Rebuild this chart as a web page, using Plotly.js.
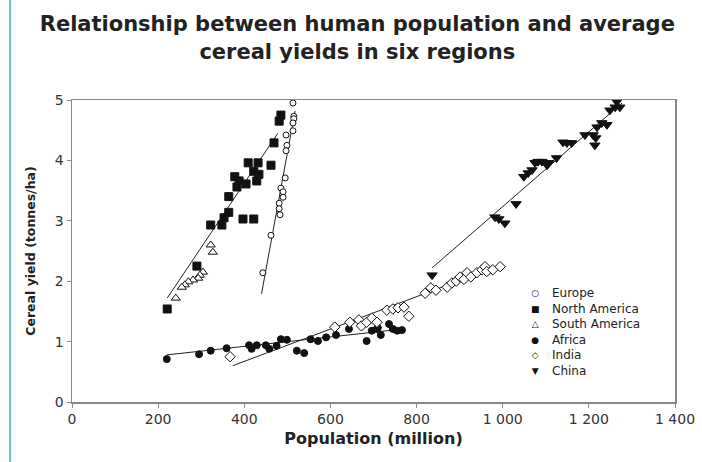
<!DOCTYPE html>
<html>
<head>
<meta charset="utf-8">
<script src="https://cdn.plot.ly/plotly-3.0.1.min.js"></script>
<style>html,body{margin:0;padding:0;background:#fff;}#chart{width:702px;height:462px;}</style>
</head>
<body>
<div id="chart"></div>
<script>
// Data (population in million, cereal yield in tonnes/ha)
const europePop = [513, 515, 515, 513, 513, 497, 499, 497, 495, 485, 490, 490, 481, 481, 483, 462, 443];
const europeYield = [4.95, 4.73, 4.69, 4.62, 4.49, 4.42, 4.25, 4.16, 3.71, 3.54, 3.48, 3.39, 3.29, 3.20, 3.10, 2.76, 2.14];
const europeFitX = [440, 518];
const europeFitY = [1.79, 4.82];

const naPop = [485, 481, 469, 409, 432, 462, 422, 434, 378, 388, 404, 429, 383, 364, 364, 353, 322, 348, 397, 422, 290, 221];
const naYield = [4.75, 4.65, 4.29, 3.96, 3.96, 3.92, 3.82, 3.77, 3.73, 3.66, 3.61, 3.66, 3.56, 3.40, 3.14, 3.05, 2.93, 2.93, 3.03, 3.03, 2.25, 1.54];
const naFitX = [221, 478];
const naFitY = [1.72, 4.45];

const saPop = [322, 327, 304, 297, 293, 281, 270, 262, 255, 241];
const saYield = [2.60, 2.48, 2.15, 2.10, 2.05, 2.02, 1.99, 1.94, 1.90, 1.72];

const africaPop = [220, 295, 322, 359, 411, 417, 429, 450, 458, 475, 485, 499, 522, 539, 554, 571, 590, 613, 643, 684, 696, 708, 710, 717, 736, 745, 755, 766];
const africaYield = [0.71, 0.79, 0.85, 0.89, 0.94, 0.88, 0.94, 0.94, 0.88, 0.93, 1.04, 1.03, 0.85, 0.81, 1.04, 1.01, 1.07, 1.11, 1.21, 1.01, 1.18, 1.21, 1.23, 1.11, 1.29, 1.21, 1.18, 1.19];
const africaFitX = [220, 770];
const africaFitY = [0.78, 1.21];

const indiaPop = [367, 610, 645, 666, 672, 684, 696, 708, 731, 745, 757, 771, 782, 820, 833, 845, 871, 882, 892, 901, 910, 917, 926, 940, 952, 959, 963, 977, 994];
const indiaYield = [0.75, 1.24, 1.32, 1.36, 1.26, 1.32, 1.39, 1.32, 1.52, 1.54, 1.56, 1.57, 1.42, 1.80, 1.89, 1.85, 1.90, 1.97, 2.00, 2.07, 2.03, 2.14, 2.07, 2.14, 2.19, 2.24, 2.16, 2.19, 2.24];
const indiaFitX = [373, 1000];
const indiaFitY = [0.60, 2.28];

const chinaPop = [836, 982, 991, 1005, 1031, 1049, 1059, 1068, 1075, 1082, 1091, 1103, 1107, 1125, 1140, 1149, 1160, 1191, 1210, 1216, 1214, 1219, 1230, 1242, 1249, 1261, 1272, 1265];
const chinaYield = [2.10, 3.06, 3.03, 2.96, 3.28, 3.73, 3.79, 3.84, 3.96, 3.98, 3.98, 3.92, 3.96, 4.04, 4.30, 4.29, 4.29, 4.42, 4.42, 4.37, 4.25, 4.55, 4.62, 4.59, 4.83, 4.88, 4.88, 4.97];
const chinaFitX = [836, 1277];
const chinaFitY = [2.22, 4.95];

const xTicks = [0, 200, 400, 600, 800, 1000, 1200, 1400];
const yTicks = [0, 1, 2, 3, 4, 5];

const seriesNames = ['Europe', 'North America', 'South America', 'Africa', 'India', 'China'];
const legendGlyphs = ['\u25CB', '\u25A0', '\u25B3', '\u25CF', '\u25C7', '\u25BC'];

const FONT = 'DejaVu Sans, Verdana, sans-serif';
const lineStyle = {color: '#222', width: 1};
function fit(x, y) {
  return {x: x, y: y, mode: 'lines', line: lineStyle, showlegend: false, hoverinfo: 'skip', type: 'scatter'};
}
const mk = (sym, size, filled) => ({
  symbol: sym, size: size,
  color: filled ? '#111' : '#fff',
  line: {color: '#111', width: 1}
});
function pts(x, y, name, marker) {
  return {x: x, y: y, name: name, mode: 'markers', type: 'scatter', marker: marker, showlegend: false};
}

const traces = [
  fit(europeFitX, europeFitY), fit(naFitX, naFitY), fit(africaFitX, africaFitY),
  fit(indiaFitX, indiaFitY), fit(chinaFitX, chinaFitY),
  pts(europePop, europeYield, seriesNames[0], mk('circle', 6, false)),
  pts(naPop, naYield, seriesNames[1], mk('square', 8, true)),
  pts(saPop, saYield, seriesNames[2], mk('triangle-up', 8, false)),
  pts(africaPop, africaYield, seriesNames[3], mk('circle', 7, true)),
  pts(indiaPop, indiaYield, seriesNames[4], mk('diamond', 8, false)),
  pts(chinaPop, chinaYield, seriesNames[5], mk('triangle-down', 9, true))
];

// Compact legend: a glyph column and a name column, each one multi-line text block
const legY = 0.232;
const annotations = [
  {
    xref: 'paper', yref: 'paper', x: 0.768, y: legY, xanchor: 'center', yanchor: 'middle',
    align: 'center', showarrow: false,
    text: legendGlyphs.map(g => '<span style="font-size:9px">' + g + '</span>').join('<br>'),
    font: {family: FONT, size: 12, color: '#111'}
  },
  {
    xref: 'paper', yref: 'paper', x: 0.792, y: legY, xanchor: 'left', yanchor: 'middle',
    align: 'left', showarrow: false,
    text: seriesNames.join('<br>'),
    font: {family: FONT, size: 12, color: '#222'}
  }
];

const axisCommon = {
  showgrid: false, zeroline: false, showline: true, linecolor: '#888', linewidth: 1.5,
  mirror: true, ticks: 'outside', ticklen: 4, tickcolor: '#888',
  tickfont: {family: FONT, size: 14, color: '#333'}
};

const layout = {
  width: 702, height: 462,
  margin: {l: 72, r: 27, t: 100, b: 60},
  paper_bgcolor: '#fff', plot_bgcolor: '#fff',
  separators: '. ',
  title: {
    text: 'Relationship between human population and average<br>cereal yields in six regions',
    font: {family: FONT, size: 21, color: '#222', weight: 'bold'},
    x: 0.509, xanchor: 'center', y: 0.932, yanchor: 'top'
  },
  xaxis: Object.assign({}, axisCommon, {
    range: [0, 1400], tickvals: xTicks, separatethousands: true,
    title: {text: '<b>Population (million)</b>', font: {family: FONT, size: 16, color: '#222'}, standoff: 6}
  }),
  yaxis: Object.assign({}, axisCommon, {
    range: [0, 5], tickvals: yTicks,
    title: {text: '<b>Cereal yield (tonnes/ha)</b>', font: {family: FONT, size: 12.5, color: '#222'}, standoff: 16}
  }),
  annotations: annotations,
  shapes: [{type: 'line', xref: 'paper', yref: 'paper', x0: -0.1028, x1: -0.1028, y0: -0.2, y1: 1.34, line: {color: '#6cc9c2', width: 2}}],
  showlegend: false
};

Plotly.newPlot('chart', traces, layout, {displayModeBar: false, staticPlot: true});
</script>
</body>
</html>
